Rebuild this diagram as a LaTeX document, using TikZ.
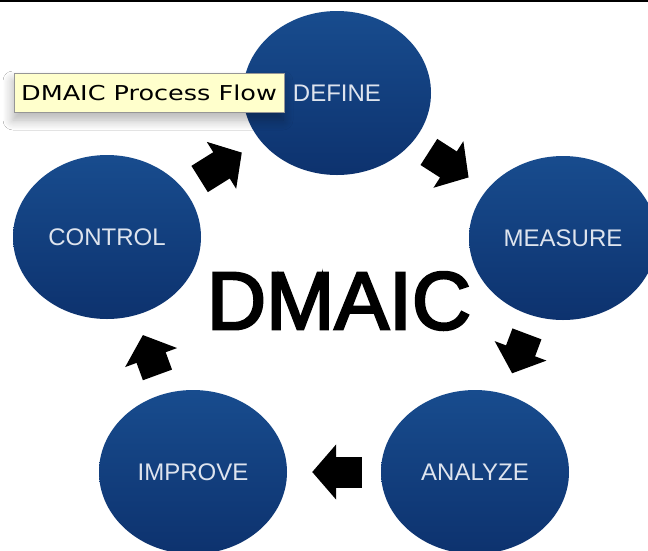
\documentclass[tikz,border=0pt]{standalone}
\usepackage{fontspec}
\setmainfont{Liberation Sans}
\newfontfamily\tipfont{DejaVu Sans}[FakeStretch=1.245]
\newfontfamily\bigfont{Liberation Sans}[FakeBold=3]
\usetikzlibrary{shapes.geometric,arrows.meta,shadows.blur}
\definecolor{ballTop}{RGB}{24,76,142}
\definecolor{ballBot}{RGB}{13,50,110}
\definecolor{ballText}{RGB}{222,228,238}
\definecolor{tipFill}{RGB}{255,255,204}
\definecolor{tipLine}{RGB}{150,150,150}
\begin{document}
\begin{tikzpicture}[x=1pt,y=-1pt,
  ball/.style={ellipse, minimum width=188pt, minimum height=164pt, inner sep=0pt,
    top color=ballTop, bottom color=ballBot, text=ballText,
    font=\fontsize{24}{28}\selectfont},
  blk/.style={line width=31pt, -{Triangle[length=24pt 0 0,width=54pt 0 0]},
    shorten <=19pt, shorten >=22pt},
  tooltip/.style={rectangle, fill=tipFill, draw=tipLine, line width=0.8pt,
    minimum width=270pt, minimum height=39pt, inner sep=0pt,
    font=\tipfont\fontsize{20.5}{24}\selectfont,
    blur shadow={shadow xshift=-1pt, shadow yshift=-8pt, shadow blur radius=10pt, shadow blur steps=10, shadow opacity=30}}
  ]
\useasboundingbox (0,0) rectangle (648,550);
\clip (0,0) rectangle (648,550);
\fill[white] (0,0) rectangle (648,550);
\draw[line width=1.5pt] (0,0.75) -- (648,0.75);

\node[ball] (define)  at (337,93)  {DEFINE};
\node[ball] (measure) at (563,238) {MEASURE};
\node[ball] (analyze) at (475,472) {ANALYZE};
\node[ball] (improve) at (193,472) {IMPROVE};
\node[ball] (control) at (107,237) {CONTROL};

\node[font=\bigfont\fontsize{82}{90}\selectfont, inner sep=0pt] (title) at (339,301) {DMAIC};

\draw[blk] (control) -- (define);
\draw[blk] (define) -- (measure);
\draw[blk] (measure) -- (analyze);
\draw[blk, shorten >=25pt] (analyze) -- (improve);
\draw[blk, shorten >=21pt, shorten <=20pt] (improve) -- (control);

\node[tooltip] (tip) at (149,92.5) {DMAIC Process Flow};
\end{tikzpicture}
\end{document}
